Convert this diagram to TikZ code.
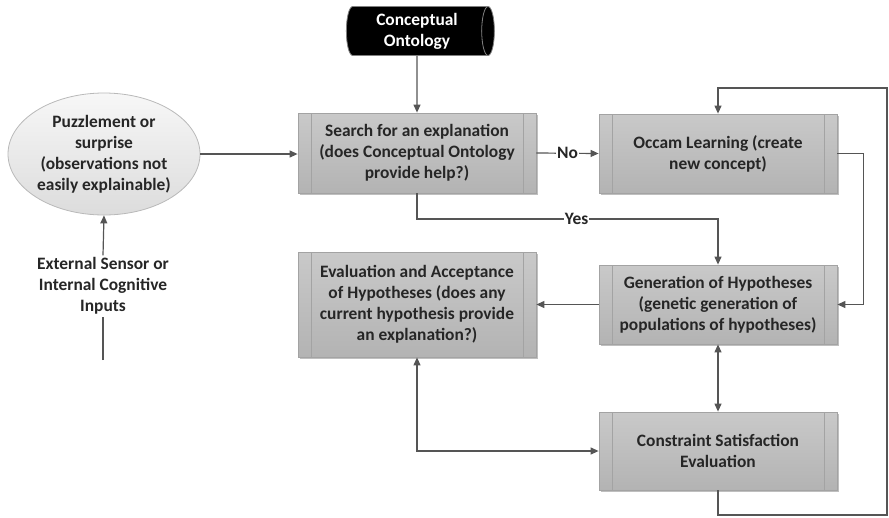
\documentclass[tikz,border=0pt]{standalone}
\usepackage{fontspec}
\setmainfont{Carlito}
\usetikzlibrary{arrows.meta,shapes.geometric,shadows}
\definecolor{linegray}{HTML}{555555}
\definecolor{boxborder}{HTML}{A3A3A3}
\definecolor{boxtop}{HTML}{C9C9C9}
\definecolor{boxbot}{HTML}{B3B3B3}
\definecolor{txt}{HTML}{262626}
\definecolor{elltop}{HTML}{F7F7F7}
\definecolor{ellbot}{HTML}{DCDCDC}
\tikzset{
  labelfont/.style={font=\fontsize{17.4}{21}\selectfont\bfseries, text=txt},
  procbox/.style={rectangle, draw=boxborder, line width=0.8pt,
    top color=boxtop, bottom color=boxbot, minimum width=238pt,
    align=center, labelfont, inner sep=0pt,
    drop shadow={shadow xshift=1.5pt, shadow yshift=-1.5pt, opacity=0.25, fill=black},
    path picture={\draw[boxborder, line width=0.8pt]
      ([xshift=13pt]path picture bounding box.north west) -- ([xshift=13pt]path picture bounding box.south west)
      ([xshift=-13pt]path picture bounding box.north east) -- ([xshift=-13pt]path picture bounding box.south east);}},
  conn/.style={draw=linegray, line width=1.2pt, -{Triangle[length=8pt,width=7pt]}},
  twoway/.style={draw=linegray, line width=1.2pt, {Triangle[length=8pt,width=7pt]}-{Triangle[length=8pt,width=7pt]}},
  plain/.style={draw=linegray, line width=1.2pt},
  edgelabel/.style={labelfont, fill=white, inner sep=1pt},
}
\begin{document}
\begin{tikzpicture}[x=1pt, y=-1pt]
\useasboundingbox (0,0) rectangle (889,517);

% data store at the top
\node[cylinder, shape aspect=0.35, draw=gray, line width=0.8pt,
      cylinder uses custom fill, cylinder body fill=black, cylinder end fill=black,
      minimum height=148pt, minimum width=49pt, inner sep=0pt, align=center,
      font=\fontsize{17.4}{21}\selectfont\bfseries, text=white] (onto) at (417,31)
      {Conceptual\\Ontology};

% process steps
\node[procbox, minimum height=80pt] (search) at (417,153)
  {Search for an explanation\\(does Conceptual Ontology\\provide help?)};
\node[procbox, minimum height=79pt] (occam) at (718,153.5)
  {Occam Learning (create\\new concept)};
\node[procbox, minimum height=79pt] (gen) at (718,304.5)
  {Generation of Hypotheses\\(genetic generation of\\populations of hypotheses)};
\node[procbox, minimum height=105pt] (eval) at (417,304.5)
  {Evaluation and Acceptance\\of Hypotheses (does any\\current hypothesis provide\\an explanation?)};
\node[procbox, minimum height=78pt] (cons) at (718,451)
  {Constraint Satisfaction\\Evaluation};

% trigger on the left
\node[ellipse, draw=gray!55, line width=0.8pt, top color=elltop, bottom color=ellbot,
      minimum width=192pt, minimum height=122pt] (puzzle) at (104,154) {};
\node[labelfont, align=center] (puzzletext) at (puzzle)
  {Puzzlement or\\surprise\\(observations not\\easily explainable)};
\node[labelfont, align=center, inner sep=2pt] (ext) at (103,286)
  {External Sensor or\\Internal Cognitive\\Inputs};
\coordinate (extin) at (103,360);

% routing points
\coordinate (yesy) at (417,219);
\coordinate (loopbr) at (887,515);
\coordinate (looptr) at (887,88);

% connectors
\draw[plain] (extin) -- (ext.south);
\draw[conn] (ext.north) -- (puzzle.south);
\draw[conn] (puzzle.east) -- (puzzle.east -| search.west);
\draw[conn] (onto.south) -- (search.north);
\draw[conn] (search.east) -- node[edgelabel] {No} (occam.west);
\draw[conn] (search.south) -- (search.south |- yesy)
  -- node[edgelabel, pos=0.53] {Yes} (gen.north |- yesy) -- (gen.north);
\draw[conn] (occam.east) -- ++(26,0) |- (gen.east);
\draw[conn] (gen.west) -- (eval.east);
\draw[twoway] (gen.south) -- (cons.north);
\draw[twoway] (eval.south) |- (cons.west);
\draw[conn] (cons.south) |- (loopbr) -- (looptr) -| (occam.north);
\end{tikzpicture}
\end{document}
